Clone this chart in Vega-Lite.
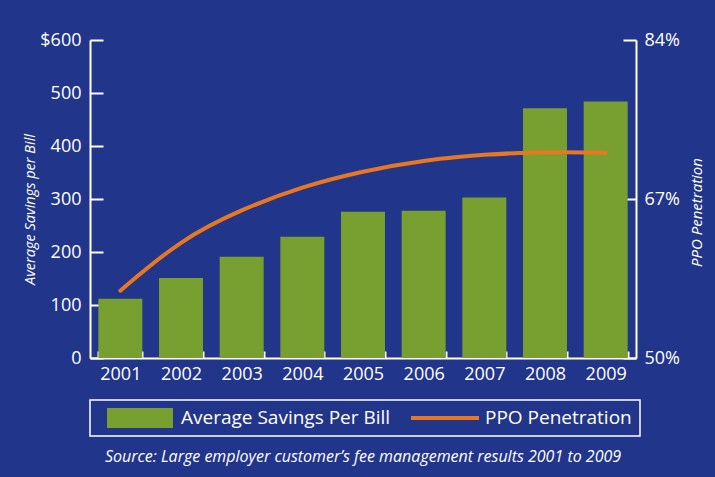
{
  "$schema": "https://vega.github.io/schema/vega-lite/v6.json",
  "width": 546,
  "height": 318,
  "autosize": "none",
  "padding": {"left": 90, "top": 40, "right": 79, "bottom": 119},
  "background": "#21358a",
  "title": {
    "text": "Source: Large employer customer’s fee management results 2001 to 2009",
    "orient": "bottom",
    "anchor": "middle",
    "frame": "group",
    "font": "Open Sans",
    "fontSize": 16,
    "fontStyle": "italic",
    "fontWeight": "normal",
    "color": "white",
    "offset": 12
  },
  "data": {
    "values": [
      {"year": "2001", "series": "Average Savings Per Bill", "value": 112},
      {"year": "2002", "series": "Average Savings Per Bill", "value": 151},
      {"year": "2003", "series": "Average Savings Per Bill", "value": 191},
      {"year": "2004", "series": "Average Savings Per Bill", "value": 229},
      {"year": "2005", "series": "Average Savings Per Bill", "value": 276},
      {"year": "2006", "series": "Average Savings Per Bill", "value": 278},
      {"year": "2007", "series": "Average Savings Per Bill", "value": 303},
      {"year": "2008", "series": "Average Savings Per Bill", "value": 471},
      {"year": "2009", "series": "Average Savings Per Bill", "value": 484},
      {"year": "2001", "series": "PPO Penetration", "value": 0.572},
      {"year": "2002", "series": "PPO Penetration", "value": 0.627},
      {"year": "2003", "series": "PPO Penetration", "value": 0.659},
      {"year": "2004", "series": "PPO Penetration", "value": 0.6835},
      {"year": "2005", "series": "PPO Penetration", "value": 0.7},
      {"year": "2006", "series": "PPO Penetration", "value": 0.7115},
      {"year": "2007", "series": "PPO Penetration", "value": 0.7178},
      {"year": "2008", "series": "PPO Penetration", "value": 0.7205},
      {"year": "2009", "series": "PPO Penetration", "value": 0.7195}
    ]
  },
  "encoding": {
    "x": {
      "field": "year",
      "type": "ordinal",
      "scale": {"paddingInner": 0.275, "paddingOuter": 0.1375},
      "axis": {
        "title": null,
        "labelAngle": 0,
        "labelFont": "Open Sans",
        "labelFontSize": 18,
        "labelColor": "white",
        "labelPadding": 14,
        "tickBand": "extent",
        "tickSize": -7,
        "tickColor": "white",
        "tickWidth": 2,
        "domainColor": "white",
        "domainWidth": 2
      }
    },
    "color": {
      "field": "series",
      "type": "nominal",
      "scale": {
        "domain": ["Average Savings Per Bill", "PPO Penetration"],
        "range": ["#78a030", "#e87722"]
      },
      "legend": {
        "title": null,
        "orient": "none",
        "legendX": 0,
        "legendY": 360,
        "direction": "horizontal",
        "padding": 8,
        "strokeColor": "white",
        "symbolType": "M-0.1,-1H6.5V1H-0.1Z",
        "symbolSize": 400,
        "symbolStrokeWidth": 0,
        "labelOffset": 63,
        "labelLimit": 400,
        "labelFont": "Open Sans",
        "labelFontSize": 19,
        "labelColor": "white",
        "columnPadding": 11,
        "encode": {
          "symbols": {
            "update": {
              "shape": {"signal": "datum.value === 'PPO Penetration' ? 'M-0.1,-0.2H6.7V0.2H-0.1Z' : 'M-0.1,-1H6.5V1H-0.1Z'"},
              "fill": {"signal": "datum.value === 'PPO Penetration' ? '#e87722' : '#78a030'"},
              "strokeWidth": {"value": 0},
              "opacity": {"value": 1}
            }
          },
          "legend": {"update": {"strokeWidth": {"value": 1.5}}}
        }
      }
    }
  },
  "layer": [
    {
      "transform": [{"filter": "datum.series === 'Average Savings Per Bill'"}],
      "mark": {"type": "bar", "color": "#78a030"},
      "encoding": {
        "y": {
          "field": "value",
          "type": "quantitative",
          "scale": {"domain": [0, 600], "nice": false},
          "axis": {
            "orient": "left",
            "title": "Average Savings per Bill",
            "titleFont": "Open Sans",
            "titleFontSize": 14.5,
            "titleFontStyle": "italic",
            "titleFontWeight": "normal",
            "titleColor": "white",
            "titleAngle": -90,
            "titleX": -60,
            "titleY": 169,
            "titleAlign": "center",
            "titleBaseline": "middle",
            "values": [0, 100, 200, 300, 400, 500, 600],
            "labelExpr": "datum.value == 600 ? '$600' : datum.label",
            "labelFont": "Open Sans",
            "labelFontSize": 18,
            "labelColor": "white",
            "labelPadding": 22,
            "tickSize": -13,
            "tickColor": "white",
            "tickWidth": 2,
            "domainColor": "white",
            "domainWidth": 2,
            "grid": false
          }
        }
      }
    },
    {
      "transform": [{"filter": "datum.series === 'PPO Penetration'"}],
      "mark": {"type": "line", "color": "#e87722", "strokeWidth": 4, "interpolate": "basis", "strokeCap": "round"},
      "encoding": {
        "y": {
          "field": "value",
          "type": "quantitative",
          "scale": {"domain": [0.5, 0.84], "nice": false, "zero": false},
          "axis": {
            "orient": "right",
            "title": "PPO Penetration",
            "titleFont": "Open Sans",
            "titleFontSize": 15,
            "titleFontStyle": "italic",
            "titleFontWeight": "normal",
            "titleColor": "white",
            "titleAngle": -90,
            "titleX": 60,
            "titleY": 172,
            "titleAlign": "center",
            "titleBaseline": "middle",
            "values": [0.5, 0.67, 0.84],
            "format": ".0%",
            "labelFont": "Open Sans",
            "labelFontSize": 18,
            "labelColor": "white",
            "labelPadding": 21,
            "tickSize": -13,
            "tickColor": "white",
            "tickWidth": 2,
            "domainColor": "white",
            "domainWidth": 2,
            "grid": false
          }
        }
      }
    }
  ],
  "resolve": {"scale": {"y": "independent"}},
  "config": {"view": {"stroke": null}}
}
